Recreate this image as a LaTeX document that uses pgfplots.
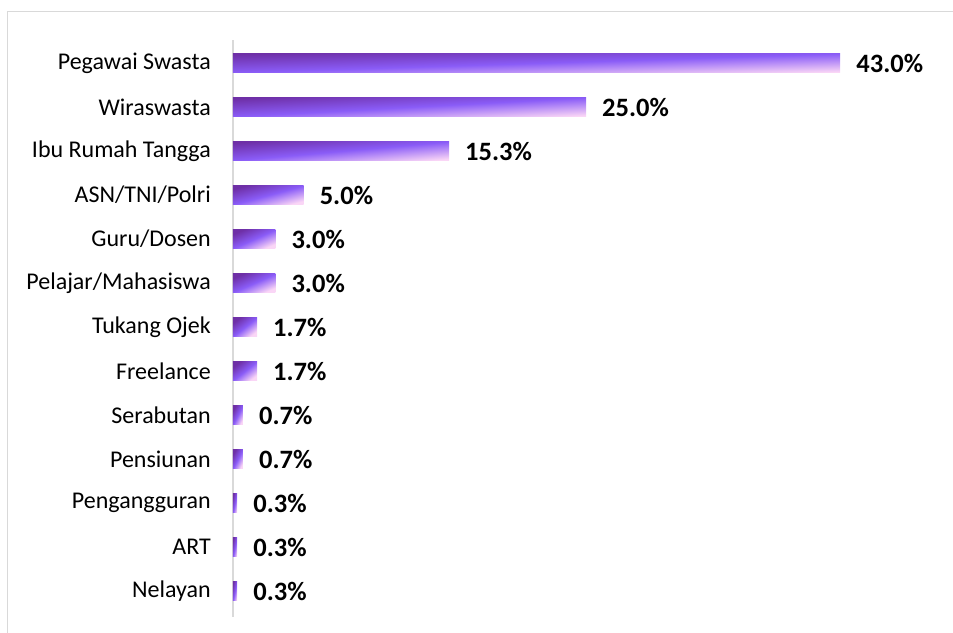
\documentclass[border=0pt]{standalone}
\usepackage{pgfplots}
\pgfplotsset{compat=1.18}
\usepackage{fontspec}
\setmainfont{Carlito}
\definecolor{bardark}{HTML}{6E2FA6}
\definecolor{barmid}{HTML}{8A5CF7}
\definecolor{barlight}{HTML}{FAD6F6}
\definecolor{framegray}{HTML}{D9D9D9}
\begin{document}
\begin{tikzpicture}[x=1pt,y=1pt]
\useasboundingbox (0,0) rectangle (953,632);
\draw[framegray, line width=1.6pt] (7.5,-10) -- (7.5,620.5) -- (970,620.5);
\begin{axis}[
  at={(233pt,15pt)}, anchor=south west,
  scale only axis, width=677.8pt, height=576.8pt,
  xmin=0, xmax=48,
  ymin=-0.52, ymax=12.59,
  y dir=reverse,
  axis x line=none,
  axis y line=left,
  axis line style={-, draw=framegray, line width=1.6pt},
  ytick={0,1,2,3,4,5,6,7,8,9,10,11,12},
  yticklabels={Pegawai Swasta,Wiraswasta,Ibu Rumah Tangga,ASN/TNI/Polri,Guru/Dosen,Pelajar/Mahasiswa,Tukang Ojek,Freelance,Serabutan,Pensiunan,Pengangguran,ART,Nelayan},
  major tick length=0pt,
  yticklabel style={font=\fontsize{24}{26}\selectfont, anchor=east, inner sep=0pt, xshift=-22pt, text=black},
  xbar, bar width=19pt,
  every axis plot/.append style={bar shift=0pt, draw=none, top color=bardark, bottom color=barlight, middle color=barmid},
  clip=false,
  point meta=x,
  nodes near coords={\pgfmathprintnumber[fixed,fixed zerofill,precision=1,assume math mode=true]{\pgfplotspointmeta}\%},
  nodes near coords style={anchor=west, inner sep=0pt, xshift=16pt, font=\fontsize{26.5}{28}\selectfont\bfseries, text=black},
]
\addplot[shading angle=1.8] coordinates {(43.0,0)};
\addplot[shading angle=3.1] coordinates {(25.0,1)};
\addplot[shading angle=5.0] coordinates {(15.3,2)};
\addplot[shading angle=15.1] coordinates {(5.0,3)};
\addplot[shading angle=24.1] coordinates {(3.0,4)};
\addplot[shading angle=24.1] coordinates {(3.0,5)};
\addplot[shading angle=38.4] coordinates {(1.7,6)};
\addplot[shading angle=38.4] coordinates {(1.7,7)};
\addplot[shading angle=62.5] coordinates {(0.7,8)};
\addplot[shading angle=62.5] coordinates {(0.7,9)};
\addplot[shading angle=77.4] coordinates {(0.3,10)};
\addplot[shading angle=77.4] coordinates {(0.3,11)};
\addplot[shading angle=77.4] coordinates {(0.3,12)};
\end{axis}
\end{tikzpicture}
\end{document}
